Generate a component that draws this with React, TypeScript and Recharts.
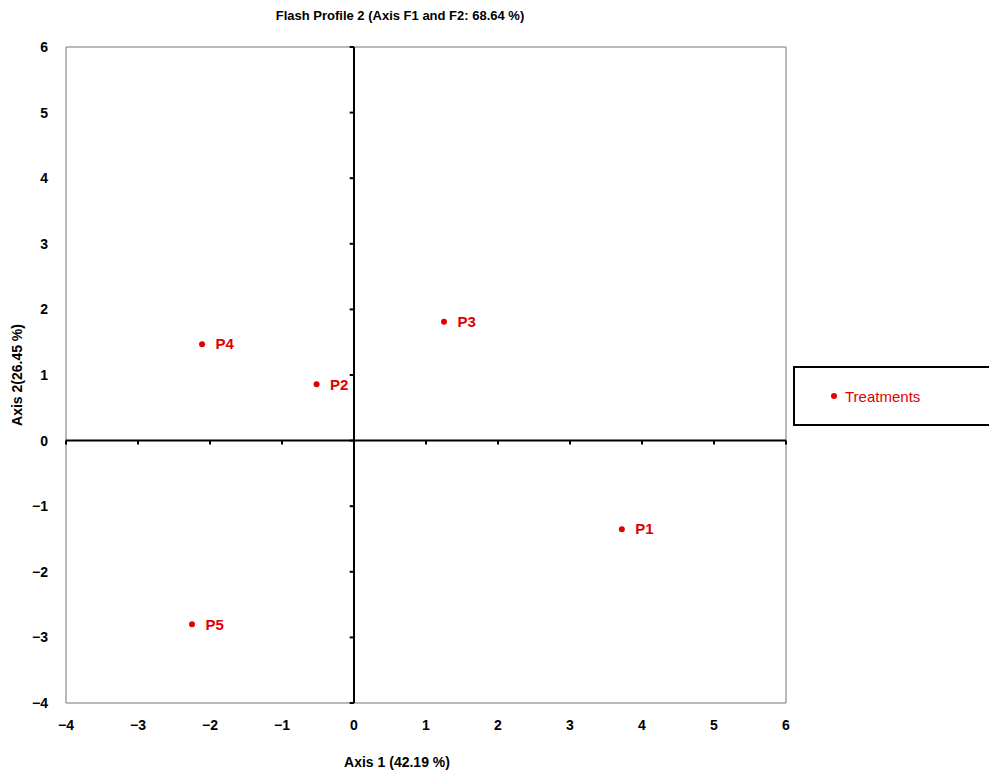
import { ScatterChart, Scatter, XAxis, YAxis, ReferenceLine, LabelList, Label } from 'recharts';

const names = ['P1', 'P2', 'P3', 'P4', 'P5'];
const axis1 = [3.72, -0.52, 1.25, -2.11, -2.25];
const axis2 = [-1.35, 0.86, 1.81, 1.47, -2.8];
const xTicks = [-4, -3, -2, -1, 0, 1, 2, 3, 4, 5, 6];
const yTicks = [-4, -3, -2, -1, 0, 1, 2, 3, 4, 5, 6];

const FONT = '"Liberation Sans Narrow", "Arial Narrow", "Liberation Sans", Arial, sans-serif';
const RED = '#e00000';

const points = names.map((name, i) => ({ name, x: axis1[i], y: axis2[i] }));

const minus = (v: number) => (v < 0 ? '\u2212' + Math.abs(v) : String(v));

function LegendBox() {
  return (
    <div
      style={{
        position: 'absolute',
        left: 793,
        top: 366,
        width: 200,
        height: 60,
        border: '2px solid #000',
        boxSizing: 'border-box',
        display: 'flex',
        alignItems: 'center',
        paddingLeft: 36,
        fontFamily: '"Liberation Sans", Arial, sans-serif',
        fontSize: 15,
        color: RED,
      }}
    >
      <span style={{ width: 6, height: 6, borderRadius: 3, background: RED, display: 'inline-block', marginRight: 8 }} />
      Treatments
    </div>
  );
}

export default function App() {
  const tickStyle = { fill: '#000', fontSize: 14, fontWeight: 'bold', fontFamily: FONT };
  return (
    <div style={{ position: 'absolute', left: 0, top: 0, width: 989, height: 771, background: '#fff' }}>
      <div
        style={{
          position: 'absolute',
          left: 200,
          width: 400,
          top: 8,
          textAlign: 'center',
          fontFamily: FONT,
          fontWeight: 'bold',
          fontSize: 13,
        }}
      >
        Flash Profile 2 (Axis F1 and F2: 68.64 %)
      </div>
      <ScatterChart width={989} height={771} margin={{ top: 47, right: 203, bottom: 0, left: 20 }}>
        <XAxis
          type="number"
          dataKey="x"
          domain={[-4, 6]}
          ticks={xTicks}
          allowDataOverflow
          height={68}
          axisLine={false}
          tickLine={false}
          tickSize={0}
          tickMargin={17}
          tick={tickStyle}
          tickFormatter={minus}
        >
          <Label
            value="Axis 1 (42.19 %)"
            position="insideBottom"
            offset={4}
            dx={-29}
            style={{ fill: '#000', fontSize: 14, fontWeight: 'bold', fontFamily: FONT }}
          />
        </XAxis>
        <YAxis
          type="number"
          dataKey="y"
          domain={[-4, 6]}
          ticks={yTicks}
          allowDataOverflow
          width={46}
          axisLine={false}
          tickLine={false}
          tickSize={0}
          tickMargin={18}
          tick={tickStyle}
          tickFormatter={minus}
        >
          <Label
            value="Axis 2(26.45 %)"
            angle={-90}
            position="insideLeft"
            offset={-3}
            style={{ textAnchor: 'middle', fill: '#000', fontSize: 14, fontWeight: 'bold', fontFamily: FONT }}
          />
        </YAxis>
        {/* plot frame */}
        <ReferenceLine x={-4} stroke="#a0a0a0" strokeWidth={1.5} />
        <ReferenceLine x={6} stroke="#a0a0a0" strokeWidth={1.5} />
        <ReferenceLine y={6} stroke="#a0a0a0" strokeWidth={1.5} />
        <ReferenceLine y={-4} stroke="#a0a0a0" strokeWidth={1.5} />
        {/* axes through origin */}
        <ReferenceLine x={0} stroke="#000" strokeWidth={2} />
        <ReferenceLine y={0} stroke="#000" strokeWidth={2} />
        {xTicks.map((t) => (
          <ReferenceLine
            key={'xt' + t}
            segment={[{ x: t, y: 0 }, { x: t, y: -0.06 }]}
            stroke="#000"
            strokeWidth={2}
          />
        ))}
        {yTicks.map((t) => (
          <ReferenceLine
            key={'yt' + t}
            segment={[{ x: 0, y: t }, { x: -0.06, y: t }]}
            stroke="#000"
            strokeWidth={2}
          />
        ))}
        <Scatter
          name="Treatments"
          data={points}
          fill={RED}
          isAnimationActive={false}
          shape={(p: any) => <circle cx={p.cx} cy={p.cy} r={3} fill={RED} />}
        >
          <LabelList
            dataKey="name"
            position="right"
            offset={9}
            style={{ fill: RED, fontSize: 15, fontWeight: 'bold', fontFamily: '"Liberation Sans", Arial, sans-serif' }}
          />
        </Scatter>
      </ScatterChart>
      <LegendBox />
    </div>
  );
}
